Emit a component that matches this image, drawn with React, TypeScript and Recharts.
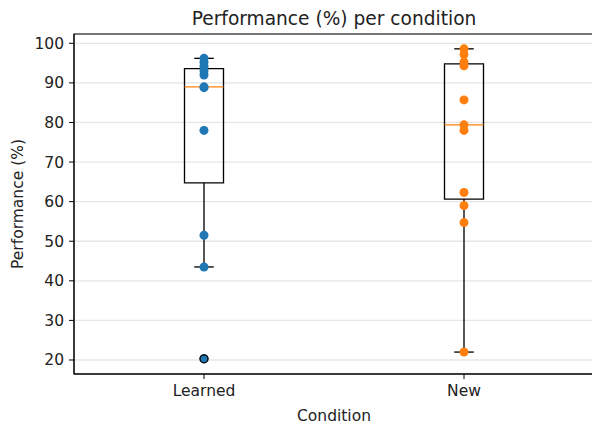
import React from "react";
import {
  ComposedChart,
  Scatter,
  XAxis,
  YAxis,
  CartesianGrid,
  ReferenceArea,
  ReferenceLine,
  Customized,
} from "recharts";

const categories = ["Learned", "New"];
const learnedValues = [96.2, 95.2, 94.2, 93.0, 92.0, 89.0, 88.8, 78.0, 51.5, 43.5, 20.3];
const newValues = [98.6, 97.2, 95.3, 94.3, 85.7, 79.4, 78.0, 62.3, 59.0, 54.7, 22.0];
const yTicks = [20, 30, 40, 50, 60, 70, 80, 90, 100];

const BLUE = "#1f77b4";
const ORANGE = "#ff7f0e";
const FONT = "DejaVu Sans, sans-serif";
const TEXT = "#222";
const BOX_W = 0.15;

function quantile(sorted: number[], p: number) {
  const idx = (sorted.length - 1) * p;
  const lo = Math.floor(idx);
  const hi = Math.ceil(idx);
  return sorted[lo] + (sorted[hi] - sorted[lo]) * (idx - lo);
}

// matplotlib style box stats (whis = 1.5)
function boxStats(values: number[], pos: number) {
  const s = [...values].sort((a, b) => a - b);
  const q1 = quantile(s, 0.25);
  const med = quantile(s, 0.5);
  const q3 = quantile(s, 0.75);
  const iqr = q3 - q1;
  const inside = s.filter((v) => v >= q1 - 1.5 * iqr && v <= q3 + 1.5 * iqr);
  const lo = inside[0];
  const hi = inside[inside.length - 1];
  const fliers = s.filter((v) => v < lo || v > hi).map((v) => ({ x: pos, y: v }));
  return { pos, q1, med, q3, lo, hi, fliers };
}

const groups = [
  { values: learnedValues, color: BLUE, pos: 1 },
  { values: newValues, color: ORANGE, pos: 2 },
];
const stats = groups.map((g) => boxStats(g.values, g.pos));

const Dot = (color: string) => (p: any) => (
  <circle cx={p.cx} cy={p.cy} r={4.5} fill={color} />
);

const FlierDot = (p: any) => (
  <circle cx={p.cx} cy={p.cy} r={4} fill="none" stroke="#000" strokeWidth={1.3} />
);

const Title = () => (
  <text x={334} y={25} textAnchor="middle" fontSize={18.6} fontFamily={FONT} fill={TEXT}>
    Performance (%) per condition
  </text>
);

const lineProps = { stroke: "#000", strokeWidth: 1.33, ifOverflow: "visible" as const };

export default function App() {
  return (
    <div
      style={{
        position: "fixed",
        left: 0,
        top: 0,
        width: 592,
        height: 428,
        overflow: "hidden",
        background: "#fff",
      }}
    >
      <ComposedChart
        width={600}
        height={428}
        margin={{ top: 34, right: 6, bottom: 0, left: 0 }}
      >
        <CartesianGrid vertical={false} stroke="#e6e6e6" strokeWidth={1.3} />
        <XAxis
          type="number"
          dataKey="x"
          domain={[0.5, 2.5]}
          ticks={[1, 2]}
          allowDataOverflow
          tickFormatter={(v) => categories[v - 1]}
          height={54}
          stroke="#000"
          tickSize={5}
          tickMargin={6}
          tick={{ fill: TEXT, fontSize: 15.5, fontFamily: FONT }}
          label={{ value: "Condition", position: "center", dy: 14, fill: TEXT, fontSize: 15.5, fontFamily: FONT }}
        />
        <YAxis
          type="number"
          dataKey="y"
          domain={[16.46, 102.35]}
          ticks={yTicks}
          allowDataOverflow
          width={74}
          stroke="#000"
          tickSize={5}
          tickMargin={5}
          tick={{ fill: TEXT, fontSize: 15.5, fontFamily: FONT }}
          label={{ value: "Performance (%)", angle: -90, position: "center", dx: -20, fill: TEXT, fontSize: 15.5, fontFamily: FONT }}
        />
        {groups.map((g, i) => (
          <Scatter
            key={categories[i]}
            data={g.values.map((v) => ({ x: g.pos, y: v }))}
            shape={Dot(g.color)}
            isAnimationActive={false}
          />
        ))}
        {stats.map((s) => (
          <ReferenceArea
            key={"box" + s.pos}
            x1={s.pos - BOX_W / 2}
            x2={s.pos + BOX_W / 2}
            y1={s.q1}
            y2={s.q3}
            fill="none"
            stroke="#000"
            strokeWidth={1.33}
          />
        ))}
        {stats.map((s) => [
          <ReferenceLine key={"wl" + s.pos} segment={[{ x: s.pos, y: s.q1 }, { x: s.pos, y: s.lo }]} {...lineProps} />,
          <ReferenceLine key={"wh" + s.pos} segment={[{ x: s.pos, y: s.q3 }, { x: s.pos, y: s.hi }]} {...lineProps} />,
          <ReferenceLine key={"cl" + s.pos} segment={[{ x: s.pos - BOX_W / 4, y: s.lo }, { x: s.pos + BOX_W / 4, y: s.lo }]} {...lineProps} />,
          <ReferenceLine key={"ch" + s.pos} segment={[{ x: s.pos - BOX_W / 4, y: s.hi }, { x: s.pos + BOX_W / 4, y: s.hi }]} {...lineProps} />,
          <ReferenceLine key={"md" + s.pos} segment={[{ x: s.pos - BOX_W / 2, y: s.med }, { x: s.pos + BOX_W / 2, y: s.med }]} stroke={ORANGE} strokeWidth={1.33} />,
        ])}
        <Scatter
          data={stats.flatMap((s) => s.fliers)}
          shape={FlierDot}
          isAnimationActive={false}
        />
        <ReferenceArea x1={0.5} x2={2.5} y1={16.46} y2={102.35} fill="none" stroke="#000" strokeWidth={1.1} />
        <Customized component={Title} />
      </ComposedChart>
    </div>
  );
}
